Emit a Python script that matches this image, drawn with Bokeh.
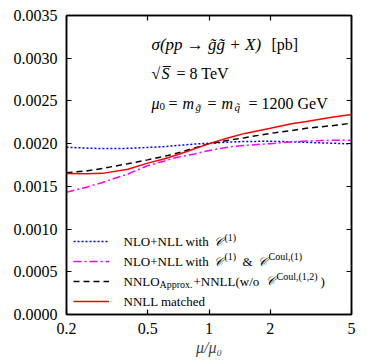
from bokeh.plotting import figure
from bokeh.models import (Range1d, LogAxis, LinearAxis, FixedTicker, CustomJSTickFormatter,
                          NumeralTickFormatter, Legend, LegendItem, Label)
from bokeh.embed import file_html
from bokeh.resources import INLINE

# ---------------- data ----------------
mu = [0.2, 0.25, 0.3, 0.4, 0.5, 0.6, 0.7, 0.85, 1.0, 1.25, 1.5, 2.0, 2.5, 3.0, 4.0, 5.0]
nlo_nll_c1 = [0.001958, 0.001948, 0.001942, 0.001945, 0.001955, 0.001965, 0.001978, 0.001995,
              0.002005, 0.002018, 0.002025, 0.002028, 0.002022, 0.002015, 0.002005, 0.001997]
nlo_nll_c1_coul = [0.001431, 0.001490, 0.001546, 0.001645, 0.001742, 0.001795, 0.001840, 0.001880,
                   0.001920, 0.001960, 0.001980, 0.002000, 0.002020, 0.002030, 0.002040, 0.002040]
nnlo_approx_nnll = [0.001660, 0.001680, 0.001710, 0.001765, 0.001810, 0.001850, 0.001890, 0.001950,
                    0.002000, 0.002040, 0.002070, 0.002120, 0.002150, 0.002180, 0.002210, 0.002240]
nnll_matched = [0.001650, 0.001648, 0.001652, 0.001700, 0.001772, 0.001820, 0.001870, 0.001940,
                0.002000, 0.002070, 0.002120, 0.002180, 0.002230, 0.002260, 0.002310, 0.002340]
x_ticks = [0.2, 0.5, 1, 2, 5]
y_ticks = [0.0, 0.0005, 0.0010, 0.0015, 0.0020, 0.0025, 0.0030, 0.0035]

FONT = "Liberation Serif"
W, H = 366, 358

p = figure(width=W, height=H, x_axis_type="log",
           x_range=Range1d(0.2, 5), y_range=Range1d(0, 0.0035),
           output_backend="svg", toolbar_location=None,
           min_border_left=66, min_border_right=15, min_border_top=15, min_border_bottom=40)
p.xgrid.visible = False
p.ygrid.visible = False
p.outline_line_color = "black"
p.outline_line_width = 1.5
p.background_fill_color = "white"
p.border_fill_color = "white"

def style_axis(ax, show_labels=True):
    ax.major_tick_in = 5
    ax.major_tick_out = 0
    ax.minor_tick_in = 0
    ax.minor_tick_out = 0
    ax.axis_line_width = 1.5
    ax.axis_line_color = "black"
    ax.major_tick_line_width = 1.2
    ax.major_label_text_font = FONT
    ax.major_label_text_font_size = "16px"
    ax.major_label_text_color = "black"
    if not show_labels:
        ax.major_label_text_font_size = "0px"
        ax.major_label_standoff = 0

xfmt = CustomJSTickFormatter(code="return String(tick);")
p.xaxis.ticker = FixedTicker(ticks=x_ticks, minor_ticks=[])
p.xaxis.formatter = xfmt
p.yaxis.ticker = FixedTicker(ticks=y_ticks, minor_ticks=[])
p.yaxis.formatter = NumeralTickFormatter(format="0.0000")
style_axis(p.xaxis[0])
style_axis(p.yaxis[0])
p.xaxis.major_label_standoff = 8
p.yaxis.major_label_standoff = 9
p.xaxis.axis_label = "μ/μ₀"
p.xaxis.axis_label_text_font = FONT
p.xaxis.axis_label_text_font_style = "italic"
p.xaxis.axis_label_text_font_size = "16px"
p.xaxis.axis_label_standoff = 2

empty = CustomJSTickFormatter(code="return '';")
top = LogAxis(ticker=FixedTicker(ticks=x_ticks, minor_ticks=[]), formatter=empty)
right = LinearAxis(ticker=FixedTicker(ticks=y_ticks, minor_ticks=[]), formatter=empty)
style_axis(top, False)
style_axis(right, False)
p.add_layout(top, "above")
p.add_layout(right, "right")

# ---------------- curves ----------------
r_blue = p.line(mu, nlo_nll_c1, line_color="#0000ff", line_width=1.5, line_dash="2 2")
r_mag = p.line(mu, nlo_nll_c1_coul, line_color="#ff00ff", line_width=1.5, line_dash="8 3 2 3")
r_blk = p.line(mu, nnlo_approx_nnll, line_color="black", line_width=1.5, line_dash="6 4")
r_red = p.line(mu, nnll_matched, line_color="#ff0000", line_width=1.5)

legend = Legend(items=[LegendItem(label=" ", renderers=[r]) for r in (r_blue, r_mag, r_blk, r_red)],
                location=(7, 3), padding=5, spacing=0, margin=0,
                glyph_width=36, glyph_height=20, label_height=20, label_width=1,
                label_standoff=4, border_line_color=None, background_fill_alpha=0,
                label_text_font=FONT, label_text_font_size="13px")
p.add_layout(legend)

# page pixel -> data helpers for text placement (frame: x 66..351, y 15..318)
def xd(px):
    return 0.2 * 25 ** ((px - 66) / 285)

def yd(py):
    return (318 - py) / 303 * 0.0035

def txt(px, py, s, size="16px", style="normal"):
    p.add_layout(Label(x=xd(px), y=yd(py), text=s, text_font=FONT, text_font_size=size,
                       text_font_style=style, text_color="black",
                       text_baseline="alphabetic", text_align="left"))

# annotation block
txt(151, 44, "σ(pp → g̃g̃ + X)", "17px", "italic")
txt(271, 44, "[pb]")
txt(151, 74, "√", "16px")
txt(161, 74, "S̅", "16px", "italic")
txt(176, 74, "= 8 TeV")
txt(151, 104, "μ", "16px", "italic")
txt(159, 107, "0", "11px")
txt(168, 104, "=")
txt(182, 104, "m", "16px", "italic")
txt(195, 108, "g̃", "11px", "italic")
txt(207, 104, "=")
txt(221, 104, "m", "16px", "italic")
txt(234, 108, "q̃", "11px", "italic")
txt(248, 104, "= 1200 GeV")

# legend texts
LS = "13px"
CS = "12px"
SS = "10px"
txt(123, 244.5, "NLO+NLL with", LS)
txt(213, 244.5, "𝒞", CS, "italic")
txt(224, 239.5, "(1)", SS)
txt(123, 264.5, "NLO+NLL with", LS)
txt(213, 264.5, "𝒞", CS, "italic")
txt(224, 259.5, "(1)", SS)
txt(242, 264.5, "&", LS)
txt(257, 264.5, "𝒞", CS, "italic")
txt(268, 259.5, "Coul,(1)", SS)
txt(123, 284.5, "NNLO", LS)
txt(159, 287.5, "Approx.", SS)
txt(193, 284.5, "+NNLL(w/o", LS)
txt(265, 284.5, "𝒞", CS, "italic")
txt(276, 279.5, "Coul,(1,2)", SS)
txt(320, 284.5, ")", LS)
txt(123, 304.5, "NNLL matched", LS)

open("out.html", "w").write(file_html(p, INLINE))
